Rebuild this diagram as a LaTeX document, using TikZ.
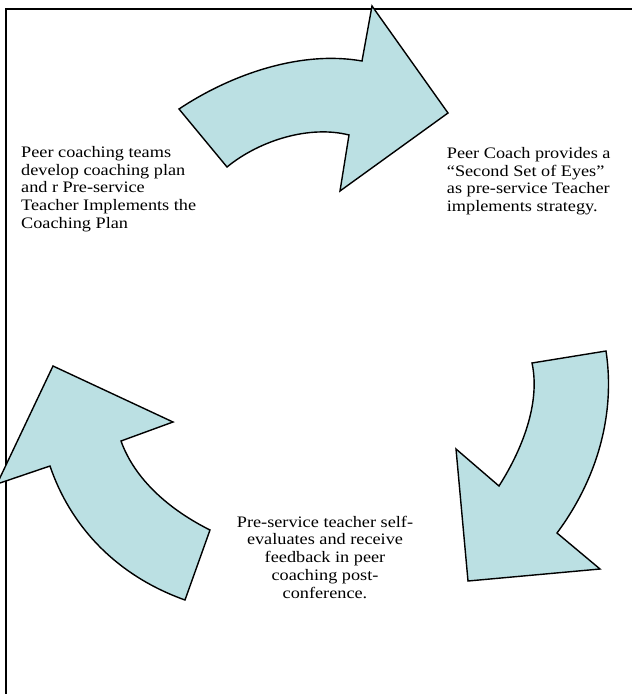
\documentclass[tikz,border=0pt]{standalone}
\usepackage{fontspec}
\setmainfont{Liberation Serif}[FakeStretch=1.14]
\definecolor{arrowfill}{RGB}{187,224,227}

\begin{document}
\begin{tikzpicture}[x=1pt,y=-1pt,
        cyclearrow/.style={fill=arrowfill,draw=black,line width=1.4pt,line join=miter},
        steptext/.style={inner sep=0pt,font=\fontsize{16}{17.7}\selectfont}]
                \useasboundingbox (0,0) rectangle (632,694);
                \clip (0,0) rectangle (632,694);
                \draw[line width=2pt] (6,694) -- (6,9) -- (632,9);

                \draw[cyclearrow] (179,109) .. controls (230,75) and (300,50) .. (362,61) -- (372,6) -- (448,113) -- (340,191) -- (349,135) .. controls (310,125) and (260,140) .. (227,167) -- cycle;
                \draw[cyclearrow] (606,351) -- (532,363) .. controls (540,400) and (525,445) .. (499,486) -- (456,449) -- (468,581) -- (600,569) -- (557,533) .. controls (600,475) and (615,410) .. (606,351) -- cycle;
                \draw[cyclearrow] (53,366) -- (173,422) -- (121,441) .. controls (135,480) and (170,510) .. (210,530) -- (185,600) .. controls (115,575) and (70,525) .. (50,466) -- (-3,484) -- cycle;

                \node[steptext,anchor=base west,align=left] (plan) at (21,228.3) {Peer coaching teams\\develop coaching plan\\and r Pre-service\\Teacher Implements the\\Coaching Plan};
                \node[steptext,anchor=base west,align=left] (observe) at (446.7,211.4) {Peer Coach provides a\\“Second Set of Eyes”\\as pre-service Teacher\\implements strategy.};
                \node[steptext,anchor=base,align=center] (reflect) at (325,598) {Pre-service teacher self-\\evaluates and receive\\feedback in peer\\coaching post-\\conference.};
            \end{tikzpicture}
\end{document}
